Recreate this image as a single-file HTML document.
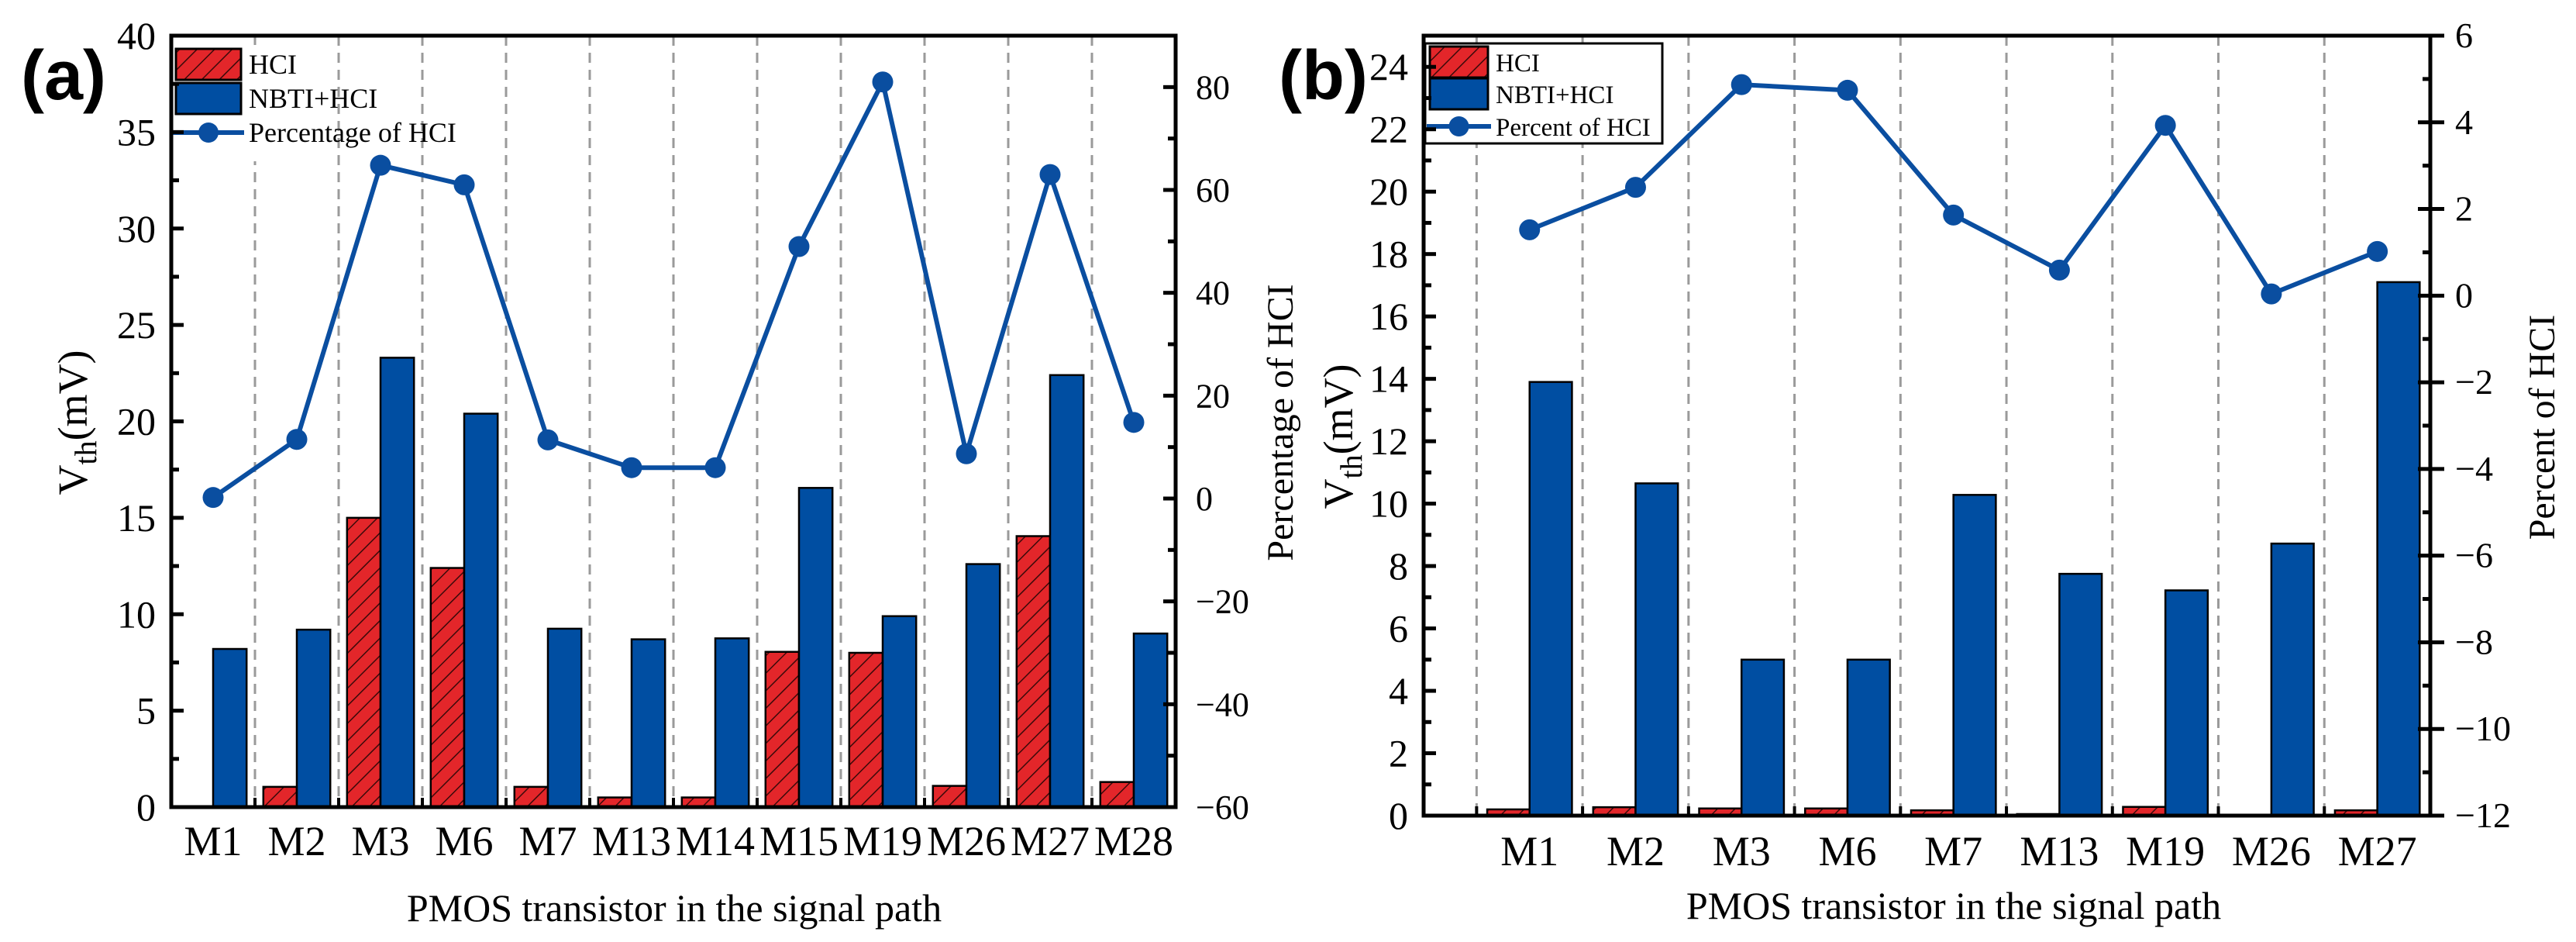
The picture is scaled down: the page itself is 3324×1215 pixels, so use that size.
<!DOCTYPE html>
<html><head><meta charset="utf-8"><style>
html,body{margin:0;padding:0;background:#fff;}
svg{display:block;font-family:"Liberation Serif",serif;}
</style></head><body>
<svg id="chart" width="3324" height="1215" viewBox="0 0 3324 1215" xmlns="http://www.w3.org/2000/svg">
<defs>
<pattern id="hatch" patternUnits="userSpaceOnUse" width="16" height="16" patternTransform="rotate(45)">
<rect width="16" height="16" fill="#e3262a"/>
<line x1="0" y1="0" x2="0" y2="16" stroke="#3a0a0a" stroke-width="3"/>
</pattern>
</defs>
<g id="gA"></g>
<g id="gB"></g>
<text x="27" y="128" font-family="Liberation Sans, sans-serif" font-weight="bold" font-size="90">(a)</text>
<text x="1650" y="128" font-family="Liberation Sans, sans-serif" font-weight="bold" font-size="90">(b)</text>
</svg>
<script>
const catsA = ["M1","M2","M3","M6","M7","M13","M14","M15","M19","M26","M27","M28"];
const hciA = [0,1.05,15.0,12.4,1.05,0.5,0.5,8.05,8.0,1.1,14.05,1.3];
const nbtiA = [8.2,9.2,23.3,20.4,9.25,8.7,8.75,16.55,9.9,12.6,22.4,9.0];
const pctA = [0.2,11.5,64.8,61,11.4,6,6,49,81,8.7,63,14.8];
const leftTicksA = [0,5,10,15,20,25,30,35,40];
const rightTicksA = [-60,-40,-20,0,20,40,60,80];

const catsB = ["M1","M2","M3","M6","M7","M13","M19","M26","M27"];
const hciB = [0.2,0.27,0.23,0.23,0.17,0.05,0.28,0.0,0.17];
const nbtiB = [13.9,10.65,5.0,5.0,10.28,7.75,7.22,8.72,17.1];
const pctB = [1.52,2.5,4.87,4.74,1.86,0.59,3.93,0.04,1.02];
const leftTicksB = [0,2,4,6,8,10,12,14,16,18,20,22,24];
const rightTicksB = [-12,-10,-8,-6,-4,-2,0,2,4,6];

const NS="http://www.w3.org/2000/svg";
function mk(parent,tag,attrs,text){const e=document.createElementNS(NS,tag);for(const k in attrs)e.setAttribute(k,attrs[k]);if(text!==undefined)e.textContent=text;parent.appendChild(e);return e;}

function panel(g,cfg){
  const L=cfg.left,R=cfg.right,T=cfg.top,B=cfg.bottom;
  const yL=v=>B-(v-cfg.lmin)/(cfg.lmax-cfg.lmin)*(B-T);
  const yR=v=>B-(v-cfg.rmin)/(cfg.rmax-cfg.rmin)*(B-T);
  const band=(R-L)/cfg.nBands;
  const xc=i=>L+(i+cfg.offset)*band;
  const bw=band*0.4;
  for(let i=0;i<cfg.cats.length;i++){
    if(i===0 && !cfg.firstSep) continue;
    const s=mk(g,'line',{x1:xc(i)-band/2,x2:xc(i)-band/2,y1:T,y2:B,stroke:'#9a9a9a','stroke-width':3,'stroke-dasharray':'13 9'});
    
    
  }
  const lg=mk(g,'g',{});
  
  
  const lr=mk(lg,'rect',cfg.legBox);
  
  
  cfg.cats.forEach((c,i)=>{
    const x=xc(i);
    const h1=yL(cfg.hci[i]);
    const r=mk(g,'rect',{x:x-bw,y:h1,width:bw,height:Math.max(0,B-h1),fill:'url(#hatch)',stroke:'#000','stroke-width':2.5});
    
    
    const h2=yL(cfg.nbti[i]);
    const r2=mk(g,'rect',{x:x,y:h2,width:bw,height:B-h2,fill:'#004ea2',stroke:'#000','stroke-width':2.5});
    
    
    const tl=mk(g,'text',{x:x,y:cfg.xLabY,'font-size':cfg.xLabFs,'text-anchor':'middle'},c);
    
    
    mk(g,'line',{x1:x-band/2,x2:x-band/2,y1:B,y2:B-12,stroke:'#000','stroke-width':4});
  });
  const pts=cfg.pct.map((v,i)=>xc(i)+','+yR(v)).join(' ');
  const pl=mk(g,'polyline',{points:pts,fill:'none',stroke:'#0a4ea0','stroke-width':6});
  
  
  cfg.pct.forEach((v,i)=>{
    const m=mk(g,'circle',{cx:xc(i),cy:yR(v),r:13.5,fill:'#0a4ea0'});
    
    
  });
  const fr=mk(g,'rect',{x:L,y:T,width:R-L,height:B-T,fill:'none',stroke:'#000','stroke-width':5});
  
  
  cfg.lTicks.forEach((v,k)=>{
    mk(g,'line',{x1:L,x2:L+16,y1:yL(v),y2:yL(v),stroke:'#000','stroke-width':5});
    if(k<cfg.lTicks.length-1){const m=(v+cfg.lTicks[k+1])/2;mk(g,'line',{x1:L,x2:L+10,y1:yL(m),y2:yL(m),stroke:'#000','stroke-width':5});}
    const t=mk(g,'text',{x:L-20,y:yL(v)+17,'font-size':cfg.lFs,'text-anchor':'end'},String(v));
    
    
  });
  cfg.rTicks.forEach((v,k)=>{
    mk(g,'line',{x1:R-16,x2:R+cfg.rOut,y1:yR(v),y2:yR(v),stroke:'#000','stroke-width':5});
    if(k<cfg.rTicks.length-1){const m=(v+cfg.rTicks[k+1])/2;mk(g,'line',{x1:R-10,x2:R,y1:yR(m),y2:yR(m),stroke:'#000','stroke-width':5});}
    const t=mk(g,'text',{x:R+cfg.rLabDx,y:yR(v)+15,'font-size':cfg.rFs},(v<0?'\u2212'+(-v):String(v)));
    
    
  });
  const le=cfg.leg;
  const s1=mk(lg,'rect',{x:le.x,y:le.y[0]-20,width:le.w,height:40,fill:'url(#hatch)',stroke:'#000','stroke-width':3});
  
  
  const s2=mk(lg,'rect',{x:le.x,y:le.y[1]-20,width:le.w,height:40,fill:'#004ea2',stroke:'#000','stroke-width':3});
  
  
  mk(lg,'line',{x1:le.x-4,x2:le.x+le.w+4,y1:le.y[2],y2:le.y[2],stroke:'#0a4ea0','stroke-width':6});
  mk(lg,'circle',{cx:le.x+le.w/2,cy:le.y[2],r:13,fill:'#0a4ea0'});
  cfg.legText.forEach((tx,k)=>{
    const t=mk(lg,'text',{x:le.x+le.w+10,y:le.y[k]+12,'font-size':le.fs},tx);
    
    
  });
  const xt=mk(g,'text',{x:cfg.xTitle[0],y:cfg.xTitle[1],'font-size':50,'text-anchor':'middle'},'PMOS transistor in the signal path');
  
  
  const yt=mk(g,'text',{transform:`translate(${cfg.yTitle[0]},${cfg.yTitle[1]}) rotate(-90)`,'font-size':54,'text-anchor':'middle'});
  
  
  mk(yt,'tspan',{},'V');
  mk(yt,'tspan',{dy:12,'font-size':40},'th');
  mk(yt,'tspan',{dy:-12},'(mV)');
  const rt=mk(g,'text',{transform:`translate(${cfg.rTitle[0]},${cfg.rTitle[1]}) rotate(-90)`,'font-size':48,'text-anchor':'middle'},cfg.rTitleText);
  
  
}

panel(document.getElementById('gA'),{
  left:221,right:1517,top:46,bottom:1041,lmin:0,lmax:40,rmin:-60,rmax:90,
  nBands:12,offset:0.5,firstSep:false,cats:catsA,hci:hciA,nbti:nbtiA,pct:pctA,
  lTicks:leftTicksA,rTicks:rightTicksA,lFs:50,rFs:44,rOut:0,rLabDx:26,
  xLabY:1103,xLabFs:54,
  legBox:{x:224,y:58,width:150,height:150,fill:'#fff'},
  leg:{x:227,w:84,y:[83,127,171],fs:36},
  legText:['HCI','NBTI+HCI','Percentage of HCI'],
  xTitle:[870,1188],yTitle:[112,545],rTitle:[1668,545],rTitleText:'Percentage of HCI'
});
panel(document.getElementById('gB'),{
  left:1837,right:3136,top:46,bottom:1052,lmin:0,lmax:25,rmin:-12,rmax:6,
  nBands:9.5,offset:1,firstSep:true,cats:catsB,hci:hciB,nbti:nbtiB,pct:pctB,
  lTicks:leftTicksB,rTicks:rightTicksB,lFs:50,rFs:46,rOut:18,rLabDx:32,
  xLabY:1116,xLabFs:54,
  legBox:{x:1839,y:56,width:306,height:129,fill:'#fff',stroke:'#000','stroke-width':3},
  leg:{x:1845,w:75,y:[80,121,163],fs:33},
  legText:['HCI','NBTI+HCI','Percent of HCI'],
  xTitle:[2521,1185],yTitle:[1745,563],rTitle:[3296,551],rTitleText:'Percent of HCI'
});
</script>
</body></html>
